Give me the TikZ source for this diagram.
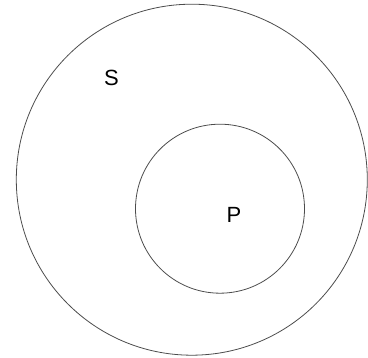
\documentclass[tikz,border=0pt]{standalone}
\usepackage{fontspec}
\setmainfont{Liberation Sans}
\begin{document}
\begin{tikzpicture}[x=1pt,y=-1pt,
  setcircle/.style={draw=black!70,line width=0.8pt},
  setlabel/.style={font=\fontsize{22}{26}\selectfont,inner sep=0pt,anchor=center}]
\useasboundingbox (0,0) rectangle (368,358);
\draw[setcircle] (191.8,179.7) circle[radius=175.5];
\draw[setcircle] (220,208.7) circle[radius=84.5];
\node[setlabel] (S) at (111.5,78) {S};
\node[setlabel] (P) at (234,214.5) {P};
\end{tikzpicture}
\end{document}
